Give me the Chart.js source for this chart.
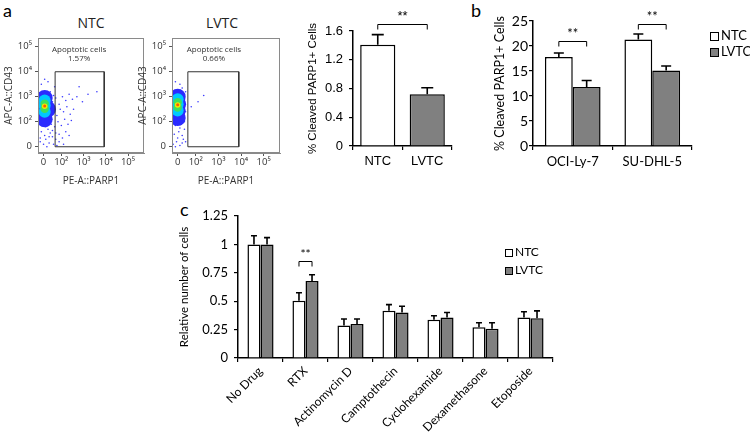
<!DOCTYPE html>
<html>
<head>
<meta charset="utf-8">
<script src="https://cdn.jsdelivr.net/npm/chart.js@4.4.0/dist/chart.umd.min.js"></script>
<style>
  body { margin: 0; width: 750px; height: 436px; position: relative; overflow: hidden; background: #fff; font-family: Lato, sans-serif; }
  canvas { position: absolute; }
  .letter { position: absolute; font-size: 18px; color: #000; line-height: 18px; }
  .ftitle { position: absolute; font-family: "Open Sans", sans-serif; font-size: 14px; color: #222; transform: translateX(-50%); line-height: 16px; }
  .leg { position: absolute; color: #000; white-space: nowrap; }
  .leg i { display: inline-block; box-sizing: border-box; border: 1.4px solid #000; margin-right: 2px; vertical-align: -1px; }
</style>
</head>
<body>
<div class="letter" style="left:3px;top:1px">a</div>
<div class="letter" style="left:471px;top:1px">b</div>
<div class="letter" style="left:180px;top:200px">c</div>
<div class="ftitle" style="left:91px;top:15px">NTC</div>
<div class="ftitle" style="left:222px;top:15px">LVTC</div>

<canvas id="flowNtc" width="152" height="196" style="left:0;top:0"></canvas>
<canvas id="flowLvtc" width="154" height="196" style="left:134px;top:0"></canvas>
<canvas id="barA" width="160" height="180" style="left:300px;top:0"></canvas>
<canvas id="barB" width="218" height="180" style="left:480px;top:0"></canvas>
<canvas id="barC" width="388" height="236" style="left:175px;top:200px"></canvas>

<div class="leg" style="left:710px;top:27px;font-size:13px;line-height:16px">
  <div><i style="width:9px;height:9px;background:#fff"></i>NTC</div>
  <div><i style="width:9px;height:9px;background:#808080"></i>LVTC</div>
</div>
<div class="leg" style="left:505px;top:243px;font-size:12px;line-height:18px">
  <div><i style="width:8px;height:8px;background:#fff"></i>NTC</div>
  <div><i style="width:8px;height:8px;background:#808080"></i>LVTC</div>
</div>

<script>
// ---- flow cytometry panels (axes in decades: 0, 10^2 .. 10^5) ----
const flowXTickPos = [0, 0.8, 1.8, 2.8, 3.8];
const flowYTickPos = [0, 1, 2, 3, 4];
const flowTickLabels = ["0", "10²", "10³", "10⁴", "10⁵"];

const ntcGate = [{x:0.52,y:0},{x:0.52,y:3},{x:2.73,y:3},{x:2.73,y:0},{x:0.52,y:0}];
const lvtcGate = [{x:0.45,y:0},{x:0.45,y:3},{x:2.7,y:3},{x:2.7,y:0},{x:0.45,y:0}];

// scattered events, read by eye
const ntcEvents = [
  {x:-0.15,y:0.2},{x:0.0,y:0.1},{x:0.1,y:0.3},{x:0.25,y:0.15},{x:0.4,y:0.4},{x:0.55,y:0.3},{x:0.7,y:0.5},
  {x:0.85,y:0.35},{x:1.0,y:0.6},{x:1.15,y:0.45},{x:-0.1,y:0.6},{x:0.2,y:0.7},{x:0.35,y:0.9},{x:0.5,y:0.8},
  {x:0.65,y:1.0},{x:0.8,y:0.85},{x:0.95,y:1.1},{x:1.1,y:0.9},{x:1.25,y:1.05},{x:0.3,y:1.2},{x:0.45,y:1.35},
  {x:0.6,y:1.25},{x:0.75,y:1.5},{x:0.9,y:1.4},{x:1.05,y:1.6},{x:1.2,y:1.3},{x:1.35,y:1.5},{x:0.4,y:1.8},
  {x:0.55,y:1.95},{x:0.7,y:1.7},{x:0.85,y:2.0},{x:1.0,y:1.85},{x:1.15,y:2.1},{x:1.3,y:1.9},{x:1.5,y:2.0},
  {x:1.75,y:1.8},{x:2.0,y:2.1},{x:1.6,y:2.4},{x:0.3,y:2.2},{x:0.5,y:2.4},{x:0.2,y:2.6},{x:0.05,y:2.7},
  {x:-0.1,y:2.5},{x:0.15,y:0.0},{x:0.6,y:0.05},{x:0.9,y:0.1},{x:-0.2,y:1.0},{x:0.05,y:0.45},{x:0.3,y:0.55},
  {x:0.15,y:1.0},{x:-0.05,y:0.85},{x:0.45,y:0.1},{x:0.7,y:0.2},{x:2.4,y:2.2},{x:0.4,y:0.65},{x:0.55,y:0.55},
  {x:0.25,y:0.4},{x:0.1,y:0.8},{x:-0.15,y:0.35},{x:0.35,y:1.6},{x:0.45,y:2.05},{x:0.25,y:1.9}
];
const lvtcEvents = [
  {x:-0.2,y:0.1},{x:-0.05,y:0.2},{x:0.1,y:0.05},{x:0.25,y:0.3},{x:-0.15,y:0.5},{x:0.05,y:0.6},{x:0.2,y:0.45},
  {x:0.35,y:0.2},{x:-0.1,y:0.85},{x:0.15,y:0.9},{x:0.3,y:0.7},{x:-0.2,y:1.1},{x:0.25,y:1.15},{x:0.35,y:1.4},
  {x:0.3,y:1.9},{x:0.35,y:2.2},{x:0.1,y:2.5},{x:-0.1,y:2.6},{x:0.2,y:2.35},{x:0.0,y:0.35},{x:0.1,y:0.75},
  {x:-0.25,y:0.3},{x:0.9,y:1.8},{x:1.15,y:2.05},{x:0.6,y:1.6},{x:0.2,y:0.15},{x:-0.1,y:0.0},{x:0.3,y:1.0}
];

// density layers, outer (blue) to inner (red)
const ntcCore = [
  [{x:0.05,y:1.1},{x:0.05,y:1.4},{x:0.08,y:1.65},{x:0.05,y:1.95},{x:0.2,y:1.5}],
  [{x:0.05,y:1.4},{x:0.05,y:1.65},{x:0.05,y:1.85}],
  [{x:0.05,y:1.52},{x:0.05,y:1.72}],
  [{x:0.05,y:1.62}],
  [{x:0.05,y:1.63}]
];
const lvtcCore = [
  [{x:0.0,y:1.15},{x:0.0,y:1.45},{x:0.02,y:1.7},{x:0.0,y:2.0}],
  [{x:0.0,y:1.45},{x:0.0,y:1.7},{x:0.0,y:1.9}],
  [{x:0.0,y:1.57},{x:0.0,y:1.78}],
  [{x:0.0,y:1.67}],
  [{x:0.0,y:1.68}]
];

// ---- bar panels ----
const aCats = ["NTC", "LVTC"];
const aValues = [1.41, 0.72];
const aErrors = [0.14, 0.09];

const bCats = ["OCI-Ly-7", "SU-DHL-5"];
const bNtc = [17.8, 21.3];
const bNtcErr = [0.8, 1.1];
const bLvtc = [11.8, 15.1];
const bLvtcErr = [1.3, 0.9];

const cCats = ["No Drug", "RTX", "Actinomycin D", "Camptothecin", "Cyclohexamide", "Dexamethasone", "Etoposide"];
const cNtc = [1.0, 0.505, 0.285, 0.415, 0.337, 0.27, 0.357];
const cNtcErr = [0.076, 0.07, 0.058, 0.055, 0.035, 0.04, 0.05];
const cLvtc = [1.0, 0.677, 0.30, 0.40, 0.357, 0.258, 0.35];
const cLvtcErr = [0.06, 0.056, 0.043, 0.055, 0.043, 0.052, 0.065];

const coreColors = ["#2a2aff", "#00c8ff", "#3ee05a", "#f0e800", "#ff5a00"];
const coreRadius = [8, 6, 4.2, 2.8, 1.5];

const frameBox = {
  id: "frameBox",
  afterDraw(chart) {
    const a = chart.chartArea, ctx = chart.ctx;
    ctx.save();
    ctx.strokeStyle = "#8a8a8a";
    ctx.lineWidth = 1;
    ctx.strokeRect(a.left + 0.5, a.top + 0.5, a.right - a.left - 1, a.bottom - a.top - 1);
    ctx.restore();
  }
};

const gateText = {
  id: "gateText",
  afterDatasetsDraw(chart, args, opts) {
    if (!opts.lines) return;
    const ctx = chart.ctx, xs = chart.scales.x, ys = chart.scales.y;
    ctx.save();
    ctx.fillStyle = "#333";
    ctx.font = "8px 'Open Sans', sans-serif";
    ctx.textAlign = "center";
    ctx.textBaseline = "middle";
    opts.lines.forEach((t, i) => {
      ctx.fillText(t, xs.getPixelForValue(opts.x), ys.getPixelForValue(opts.y[i]));
    });
    ctx.restore();
  }
};

function makeFlow(id, gate, events, core, pct) {
  // Chart.js paints dataset 0 last, so the gate and the hot core go first
  const datasets = [{
    data: gate, showLine: true, borderColor: "#333", borderWidth: 1, pointRadius: 0, fill: false
  }];
  for (let i = core.length - 1; i >= 0; i--) {
    datasets.push({ data: core[i], pointRadius: coreRadius[i], pointBackgroundColor: coreColors[i], pointBorderWidth: 0 });
  }
  datasets.push({ data: events, pointRadius: 0.8, pointBackgroundColor: "#3a3aff", pointBorderWidth: 0 });

  const tickFont = { family: "'Open Sans', sans-serif", size: 9.5 };
  new Chart(document.getElementById(id), {
    type: "scatter",
    data: { datasets },
    options: {
      responsive: false,
      animation: false,
      events: [],
      layout: { padding: { top: 38, right: 5 } },
      plugins: {
        legend: { display: false },
        tooltip: { enabled: false },
        gateText: { lines: ["Apoptotic cells", pct], x: 1.6, y: [3.9, 3.52] }
      },
      scales: {
        x: {
          type: "linear", min: -0.25, max: 4.52,
          afterBuildTicks: s => { s.ticks = flowXTickPos.map(v => ({ value: v })); },
          afterFit: s => { s.height = 43; },
          ticks: { autoSkip: false, maxRotation: 0, padding: 1, color: "#333", font: tickFont,
                   callback: (v, i) => flowTickLabels[i] },
          grid: { drawOnChartArea: false, tickLength: 3, color: "#555" },
          border: { color: "#8a8a8a" },
          title: { display: true, text: "PE-A::PARP1", color: "#333", font: { family: "'Open Sans', sans-serif", size: 10 }, padding: { top: 0, bottom: 9 } }
        },
        y: {
          type: "linear", min: -0.25, max: 4.35,
          afterBuildTicks: s => { s.ticks = flowYTickPos.map(v => ({ value: v })); },
          afterFit: s => { s.width = 38; },
          ticks: { autoSkip: false, padding: 3, color: "#333", font: tickFont,
                   callback: (v, i) => flowTickLabels[i] },
          grid: { drawOnChartArea: false, tickLength: 3, color: "#555" },
          border: { color: "#8a8a8a" },
          title: { display: true, text: "APC-A::CD43", color: "#333", font: { family: "'Open Sans', sans-serif", size: 10 }, padding: { top: 3, bottom: 0 } }
        }
      }
    },
    plugins: [frameBox, gateText]
  });
}

makeFlow("flowNtc", ntcGate, ntcEvents, ntcCore, "1.57%");
makeFlow("flowLvtc", lvtcGate, lvtcEvents, lvtcCore, "0.66%");

const errorBars = {
  id: "errorBars",
  afterDatasetsDraw(chart, args, opts) {
    const ctx = chart.ctx, ys = chart.scales.y;
    ctx.save();
    ctx.strokeStyle = "#000";
    ctx.lineWidth = 1.6;
    chart.data.datasets.forEach((ds, i) => {
      if (!ds.errors) return;
      chart.getDatasetMeta(i).data.forEach((bar, j) => {
        const top = ys.getPixelForValue(ds.data[j] + ds.errors[j]);
        ctx.beginPath();
        ctx.moveTo(bar.x, bar.y);
        ctx.lineTo(bar.x, top);
        ctx.moveTo(bar.x - opts.cap, top);
        ctx.lineTo(bar.x + opts.cap, top);
        ctx.stroke();
      });
    });
    ctx.restore();
  }
};

const sigBrackets = {
  id: "sigBrackets",
  afterDatasetsDraw(chart, args, opts) {
    if (!opts.marks) return;
    const ctx = chart.ctx, ys = chart.scales.y;
    ctx.save();
    ctx.strokeStyle = "#000";
    ctx.fillStyle = "#000";
    ctx.lineWidth = 1;
    ctx.font = opts.font;
    ctx.textAlign = "center";
    ctx.textBaseline = "middle";
    opts.marks.forEach(m => {
      const x1 = chart.getDatasetMeta(m[0]).data[m[1]].x;
      const x2 = chart.getDatasetMeta(m[2]).data[m[3]].x;
      const y = Math.round(ys.getPixelForValue(m[4])) + 0.5;
      ctx.beginPath();
      ctx.moveTo(x1, y + opts.drop);
      ctx.lineTo(x1, y);
      ctx.lineTo(x2, y);
      ctx.lineTo(x2, y + opts.drop);
      ctx.stroke();
      ctx.fillText("**", (x1 + x2) / 2, y - opts.gap);
    });
    ctx.restore();
  }
};

function barAxes(o) {
  return {
    x: {
      afterFit: s => { s.height = o.xh; },
      ticks: { color: "#000", padding: o.xpad, font: o.font, autoSkip: false,
               maxRotation: o.rot, minRotation: o.rot },
      grid: { drawOnChartArea: false, tickLength: 4, color: "#000", lineWidth: 1.2 },
      border: { color: "#000", width: 1.5 }
    },
    y: {
      min: 0, max: o.max,
      afterFit: s => { s.width = o.yw; },
      ticks: { stepSize: o.step, color: "#000", padding: o.ypad, font: o.tickFont || o.font,
               callback: v => String(+v.toFixed(2)) },
      grid: { drawOnChartArea: false, tickLength: 4, color: "#000", lineWidth: 1.2 },
      border: { color: "#000", width: 1.5 },
      title: { display: true, text: o.title, color: "#000", font: o.titleFont, padding: { top: o.tpad, bottom: 0 } }
    }
  };
}

new Chart(document.getElementById("barA"), {
  type: "bar",
  data: {
    labels: aCats,
    datasets: [{
      data: aValues, errors: aErrors,
      backgroundColor: ["#ffffff", "#808080"], borderColor: "#000", borderWidth: 1.5,
      barPercentage: 0.71, categoryPercentage: 1
    }]
  },
  options: {
    responsive: false, animation: false, events: [],
    layout: { padding: { top: 31, right: 8 } },
    plugins: {
      legend: { display: false }, tooltip: { enabled: false },
      errorBars: { cap: 6 },
      sigBrackets: { marks: [[0, 0, 0, 1, 1.693]], drop: 5, gap: 8, font: "13px 'Liberation Sans', sans-serif" }
    },
    scales: barAxes({
      xh: 34, xpad: 4, rot: 0, font: { family: "'Liberation Sans', sans-serif", size: 13 },
      max: 1.6, step: 0.4, yw: 53, ypad: 6,
      title: "% Cleaved PARP1+ Cells", titleFont: { family: "'Liberation Sans', sans-serif", size: 11.5 }, tpad: 6
    })
  },
  plugins: [errorBars, sigBrackets]
});

new Chart(document.getElementById("barB"), {
  type: "bar",
  data: {
    labels: bCats,
    datasets: [
      { data: bNtc, errors: bNtcErr, backgroundColor: "#ffffff", borderColor: "#000", borderWidth: 1.5,
        barPercentage: 1, categoryPercentage: 0.7 },
      { data: bLvtc, errors: bLvtcErr, backgroundColor: "#808080", borderColor: "#000", borderWidth: 1.5,
        barPercentage: 1, categoryPercentage: 0.7 }
    ]
  },
  options: {
    responsive: false, animation: false, events: [],
    layout: { padding: { top: 21, right: 6 } },
    plugins: {
      legend: { display: false }, tooltip: { enabled: false },
      errorBars: { cap: 5 },
      sigBrackets: { marks: [[0, 0, 1, 0, 21.0], [0, 1, 1, 1, 24.5]], drop: 5, gap: 8, font: "13px Lato, sans-serif" }
    },
    scales: barAxes({
      xh: 34, xpad: 4, rot: 0, font: { family: "Lato, sans-serif", size: 13 },
      tickFont: { family: "Lato, sans-serif", size: 14 },
      max: 25, step: 5, yw: 53, ypad: 1,
      title: "% Cleaved PARP1+ Cells", titleFont: { family: "Lato, sans-serif", size: 12.5 }, tpad: 12
    })
  },
  plugins: [errorBars, sigBrackets]
});

new Chart(document.getElementById("barC"), {
  type: "bar",
  data: {
    labels: cCats,
    datasets: [
      { data: cNtc, errors: cNtcErr, backgroundColor: "#ffffff", borderColor: "#000", borderWidth: 1.5,
        barPercentage: 1, categoryPercentage: 0.58 },
      { data: cLvtc, errors: cLvtcErr, backgroundColor: "#808080", borderColor: "#000", borderWidth: 1.5,
        barPercentage: 1, categoryPercentage: 0.58 }
    ]
  },
  options: {
    responsive: false, animation: false, events: [],
    layout: { padding: { top: 16, right: 10 } },
    plugins: {
      legend: { display: false }, tooltip: { enabled: false },
      errorBars: { cap: 3 },
      sigBrackets: { marks: [[0, 1, 1, 1, 0.85]], drop: 5, gap: 7, font: "12px Lato, sans-serif" }
    },
    scales: barAxes({
      xh: 78, xpad: 2, rot: 45, font: { family: "Lato, sans-serif", size: 12 },
      tickFont: { family: "Lato, sans-serif", size: 13 },
      max: 1.25, step: 0.25, yw: 63, ypad: 6,
      title: "Relative number of cells", titleFont: { family: "Lato, sans-serif", size: 11.5 }, tpad: 2
    })
  },
  plugins: [errorBars, sigBrackets]
});
</script>
</body>
</html>
